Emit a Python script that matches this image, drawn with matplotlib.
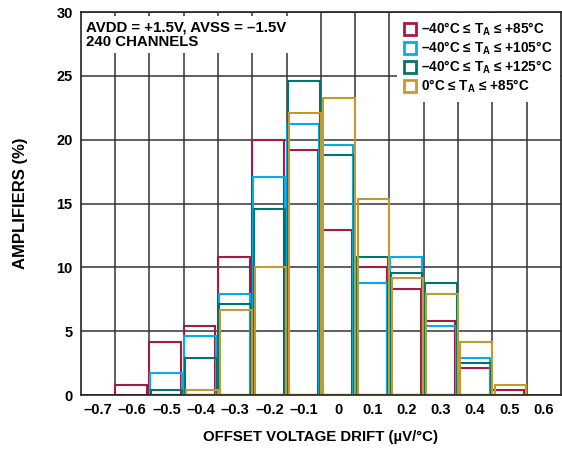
import matplotlib

matplotlib.use("Agg")
import matplotlib.pyplot as plt
import numpy as np
from matplotlib.lines import Line2D

# histogram bins (centres, µV/°C) and share of amplifiers (%) per temperature range
bin_centers = [-0.7, -0.6, -0.5, -0.4, -0.3, -0.2, -0.1, 0.0, 0.1, 0.2, 0.3, 0.4, 0.5, 0.6]
tick_labels = ["–0.7", "–0.6", "–0.5", "–0.4", "–0.3", "–0.2", "–0.1", "0", "0.1", "0.2", "0.3", "0.4", "0.5", "0.6"]

pct_m40_85 = [0, 0.8, 4.2, 5.4, 10.8, 20.0, 19.2, 12.9, 10.0, 8.3, 5.8, 2.1, 0.4, 0]
pct_m40_105 = [0, 0, 1.7, 4.6, 7.9, 17.1, 21.2, 19.6, 8.8, 10.8, 5.4, 2.9, 0, 0]
pct_m40_125 = [0, 0, 0.4, 2.9, 7.1, 14.6, 24.6, 18.8, 10.8, 9.6, 8.8, 2.5, 0, 0]
pct_0_85 = [0, 0, 0, 0.4, 6.7, 10.0, 22.1, 23.3, 15.4, 9.2, 7.9, 4.2, 0.8, 0]

series_labels = [
    r"–40°C ≤ T$_\mathregular{A}$ ≤ +85°C",
    r"–40°C ≤ T$_\mathregular{A}$ ≤ +105°C",
    r"–40°C ≤ T$_\mathregular{A}$ ≤ +125°C",
    r"0°C ≤ T$_\mathregular{A}$ ≤ +85°C",
]
colors = ["#A51A44", "#00AEEF", "#00756C", "#C49A2E"]

plt.rcParams["font.family"] = ["Liberation Sans", "DejaVu Sans"]
plt.rcParams["font.weight"] = "bold"
plt.rcParams["mathtext.fontset"] = "custom"
plt.rcParams["mathtext.rm"] = "Liberation Sans:bold"
plt.rcParams["mathtext.it"] = "Liberation Sans:bold"
plt.rcParams["mathtext.bf"] = "Liberation Sans:bold"

fig = plt.figure(figsize=(5.62, 4.49), dpi=100)
ax = fig.add_axes([0.144, 0.12, 0.854, 0.853])

step = 0.1
edges = np.array(bin_centers) - step / 2
bar_w = 0.092
offsets = [0.0, 0.002, 0.004, 0.007]
lw = 1.5

all_series = [pct_m40_85, pct_m40_105, pct_m40_125, pct_0_85]
for vals, off, col in zip(all_series, offsets, colors):
    vals = np.array(vals, dtype=float)
    keep = vals > 0
    ax.bar(edges[keep] + off, vals[keep], width=bar_w, align="edge",
           fill=False, edgecolor=col, linewidth=lw, zorder=3)

ax.set_xlim(bin_centers[0] - step / 2, bin_centers[-1] + step / 2)
ax.set_ylim(0, 30)

ax.set_xticks(bin_centers)
ax.set_xticklabels(tick_labels)
ax.set_xticks(edges[1:], minor=True)
ax.set_yticks(np.arange(0, 31, 5))
ax.tick_params(axis="both", which="both", length=0, labelsize=10.5, pad=6)
ax.grid(True, which="minor", axis="x", color="#333333", linewidth=1.1, zorder=1)
ax.grid(True, which="major", axis="y", color="#333333", linewidth=1.1, zorder=1)
ax.grid(False, which="major", axis="x")
ax.set_axisbelow(True)
for s in ax.spines.values():
    s.set_linewidth(1.2)
    s.set_color("#222222")
    s.set_zorder(4)

ax.set_xlabel("OFFSET VOLTAGE DRIFT (µV/°C)", fontsize=10.8, fontweight="bold", labelpad=9)
ax.set_ylabel("AMPLIFIERS (%)", fontsize=12, fontweight="bold", labelpad=20)

ax.text(0.01, 0.978, "AVDD = +1.5V, AVSS = –1.5V\n240 CHANNELS", transform=ax.transAxes,
        ha="left", va="top", fontsize=10.8, fontweight="bold", linespacing=1.0, zorder=5,
        bbox=dict(facecolor="white", edgecolor="none", pad=3))

handles = [Line2D([], [], linestyle="none", marker="s", markersize=8.5,
                  markerfacecolor="white", markeredgecolor=c, markeredgewidth=2)
           for c in colors]
leg = ax.legend(handles, series_labels, loc="upper right", bbox_to_anchor=(1.0, 1.0),
                frameon=True, fancybox=False, framealpha=1, edgecolor="none",
                prop={"size": 9.8, "weight": "bold"}, handlelength=0.9, handletextpad=0.4,
                labelspacing=0.12, borderpad=0.5, borderaxespad=0.1)
leg.set_zorder(6)

fig.savefig("out.png", dpi=100)
